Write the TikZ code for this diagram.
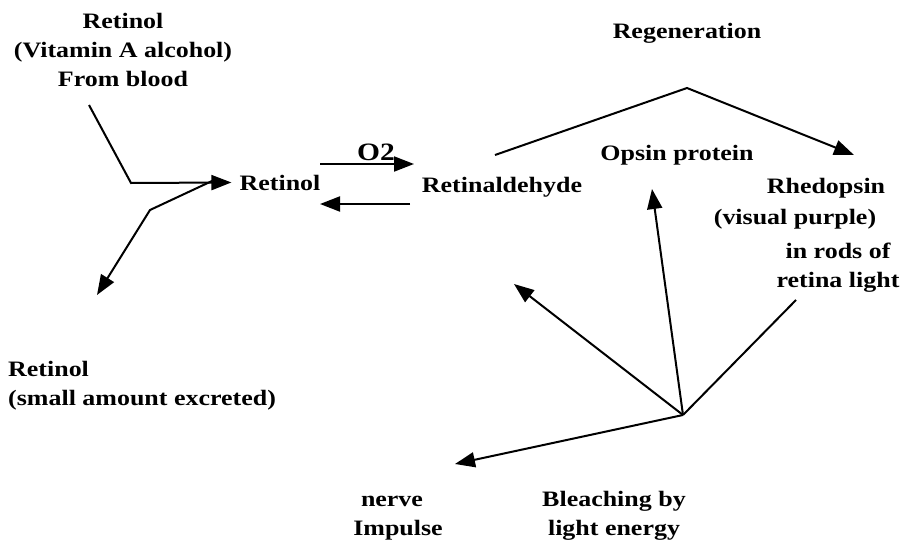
\documentclass[tikz,border=0pt]{standalone}
\usepackage{fontspec}
\setmainfont{Liberation Serif}[FakeStretch=1.18]
\usetikzlibrary{arrows.meta}

\begin{document}
\begin{tikzpicture}[x=1pt,y=-1pt,
    lbl/.style={font=\fontsize{22}{29}\selectfont\bfseries,inner sep=0pt,align=center,anchor=base},
    arr/.style={-{Triangle[length=20pt,width=15pt]},line width=2pt},
    ln/.style={line width=2pt}
  ]
  \useasboundingbox (0,0) rectangle (917,543);
  % texts (base = last line)
  \node[lbl] (blood) at (123,86) {Retinol\\(Vitamin A alcohol)\\From blood};
  \node[lbl] (ret) at (280,190) {Retinol};
  \node[lbl,align=left,anchor=base west] (excr) at (8,405) {Retinol\\(small amount excreted)};
  \node[lbl,font=\fontsize{25}{30}\selectfont\bfseries] (otwo) at (376,160) {O2};
  \node[lbl] (ald) at (502,192) {Retinaldehyde};
  \node[lbl] (regen) at (687,38) {Regeneration};
  \node[lbl] (opsin) at (677,160) {Opsin protein};
  \node[lbl] (rhod) at (826,193) {Rhedopsin};
  \node[lbl] (purple) at (795,224) {(visual purple)};
  \node[lbl] (rods) at (838,287) {in rods of\\retina light};
  \node[lbl] (nerve) at (392,535) {nerve\\\hspace{12pt}Impulse};
  \node[lbl] (bleach) at (614,535) {Bleaching by\\light energy};
  % points
  \coordinate (src) at (89,105);
  \coordinate (bend) at (131,183);
  \coordinate (kink) at (150,210);
  \coordinate (out) at (97,295);
  \coordinate (apex) at (687,88);
  \coordinate (bl) at (683,415);
  % arrows
  \draw[arr] (src) -- (bend) -- ([xshift=-8pt]ret.west);
  \draw[arr] ([xshift=-22pt,yshift=4pt]ret.west) -- (kink) -- (out);
  \draw[arr] (320,164) -- (414,164);
  \draw[arr] (410,204) -- (320,204);
  \draw[arr] (495,155) -- (apex) -- (854,155);
  \draw[arr] (bl) -- (514,284);
  \draw[arr] (bl) -- (652,189);
  \draw[ln] (bl) -- (796,300);
  \draw[arr] (bl) -- (455,464);
\end{tikzpicture}
\end{document}
